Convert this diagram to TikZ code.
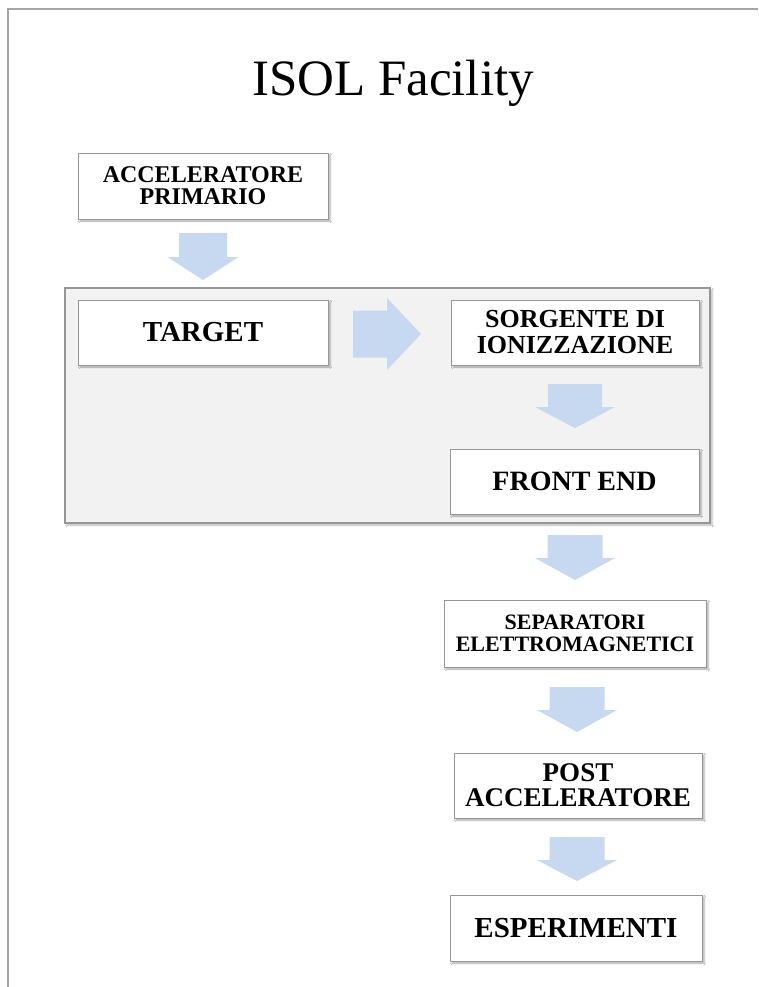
\documentclass[tikz,border=0pt]{standalone}
\usepackage{fontspec}
\setmainfont{Liberation Serif}
\usetikzlibrary{shadows,shadows.blur}
\definecolor{arrowblue}{RGB}{198,217,241}
\definecolor{boxline}{RGB}{150,150,150}
\definecolor{groupfill}{RGB}{242,242,242}
\definecolor{frameline}{RGB}{165,165,165}
\tikzset{
  stepbox/.style={draw=boxline, line width=0.9pt, fill=white, align=center,
    inner sep=0pt, font=\bfseries,
    blur shadow={shadow xshift=2pt, shadow yshift=-2pt, shadow opacity=35, shadow blur steps=4}},
  groupbox/.style={draw=boxline, line width=1.2pt, fill=groupfill, inner sep=0pt,
    blur shadow={shadow xshift=2pt, shadow yshift=-2pt, shadow opacity=30, shadow blur steps=4}},
  framestyle/.style={draw=frameline, line width=2pt},
  pics/downarrow/.style n args={4}{code={
    \fill[arrowblue] (-#3/2,0) -- (#3/2,0) -- (#3/2,#1-#4) -- (#2/2,#1-#4) -- (0,#1)
      -- (-#2/2,#1-#4) -- (-#3/2,#1-#4) -- cycle;}},
  pics/rightarrow/.style n args={4}{code={
    \fill[arrowblue] (0,-#3/2) -- (0,#3/2) -- (#1-#4,#3/2) -- (#1-#4,#2/2) -- (#1,0)
      -- (#1-#4,-#2/2) -- (#1-#4,-#3/2) -- cycle;}}
}
\begin{document}
\begin{tikzpicture}[x=1pt,y=-1pt]
\useasboundingbox (0,0) rectangle (758,987);
\fill[white] (0,0) rectangle (758,987);
% page frame
\draw[framestyle] (8,987) -- (8,9) -- (758,9);
% title
\node (title) [anchor=base, font=\fontsize{51}{60}\selectfont, inner sep=0pt] at (393,96) {ISOL Facility};
% group
\node (group) [groupbox, minimum width=645pt, minimum height=235pt] at (387.5,405.5) {};
% boxes
\node (acc) [stepbox, minimum width=250pt, minimum height=66pt,
  font=\bfseries\fontsize{24}{22}\selectfont] at (203,186) {ACCELERATORE\\PRIMARIO};
\node (target) [stepbox, minimum width=250pt, minimum height=65pt,
  font=\bfseries\fontsize{29}{29}\selectfont] at (203,332.5) {TARGET};
\node (sorg) [stepbox, minimum width=248pt, minimum height=65pt,
  font=\bfseries\fontsize{26}{26}\selectfont] at (575,332.5) {SORGENTE DI\\IONIZZAZIONE};
\node (front) [stepbox, minimum width=249pt, minimum height=65pt,
  font=\bfseries\fontsize{28}{28}\selectfont] at (574.5,481.5) {FRONT END};
\node (sep) [stepbox, minimum width=262pt, minimum height=67pt,
  font=\bfseries\fontsize{22}{22}\selectfont] at (575,633.5) {SEPARATORI\\ELETTROMAGNETICI};
\node (post) [stepbox, minimum width=248pt, minimum height=65pt,
  font=\bfseries\fontsize{27}{25}\selectfont] at (578,785.5) {POST\\ACCELERATORE};
\node (esp) [stepbox, minimum width=252pt, minimum height=66pt,
  font=\bfseries\fontsize{29}{29}\selectfont] at (576,928) {ESPERIMENTI};
% block arrows
\pic (a1) at (203,233) {downarrow={47}{71}{48}{23}};
\pic (a2) at (353,334) {rightarrow={68}{72}{47}{34}};
\pic (a3) at (575,384) {downarrow={44}{80}{54}{21}};
\pic (a4) at (575,535) {downarrow={45}{80}{55}{22}};
\pic (a5) at (577,687) {downarrow={45}{80}{55}{22}};
\pic (a6) at (577,837) {downarrow={44}{80}{55}{21}};
\end{tikzpicture}
\end{document}
